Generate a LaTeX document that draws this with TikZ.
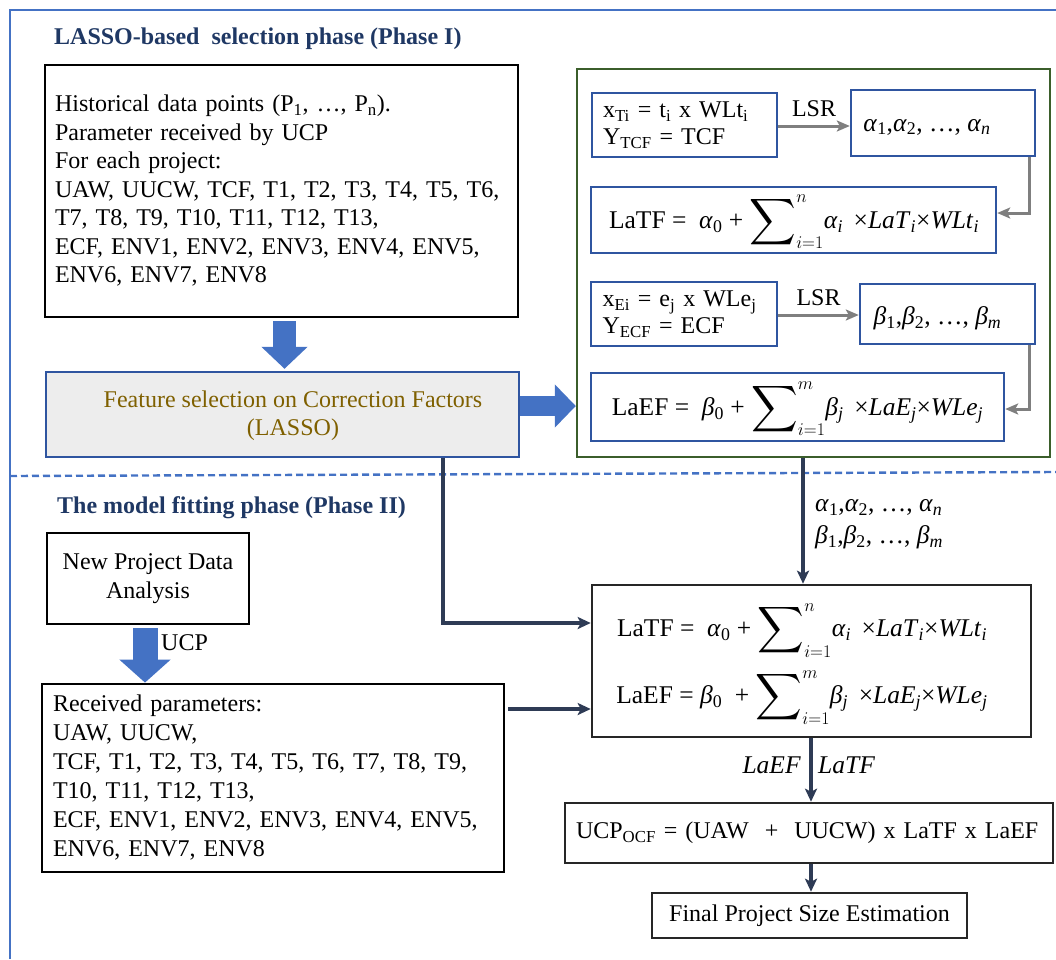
\documentclass[tikz,border=0pt]{standalone}
\usepackage{fix-cm}
\usepackage{amsmath}
\usepackage{graphicx}
\usepackage{fontspec}
\setmainfont{Liberation Serif}
\usetikzlibrary{arrows.meta,calc}
\definecolor{framebl}{HTML}{4472C4}
\definecolor{boxbl}{HTML}{2F55A0}
\definecolor{grn}{HTML}{3B5E2B}
\definecolor{navy}{HTML}{2E3B55}
\definecolor{titlec}{HTML}{1F3864}
\definecolor{olivec}{HTML}{7F6000}
\definecolor{featfill}{HTML}{EDEDED}
\definecolor{arrgray}{HTML}{7F7F7F}
\newcommand{\bodyfont}{\fontsize{24}{28.5}\selectfont}
\newcommand{\formfont}{\fontsize{25.5}{30}\selectfont}
\newcommand{\sm}[1]{\textsubscript{#1}}
\newcommand{\mi}[1]{\textit{#1}}
\newcommand{\bsum}[1]{$\displaystyle\mathop{\vcenter{\hbox{\scalebox{1.3}{$\displaystyle\sum$}}}}\nolimits_{i=1}^{#1}$}
\newcommand{\fLaTF}{LaTF = \ \mi{α}\sm{0} + \bsum{n}\mi{α}\sm{\mi{i}} \,×\mi{LaT}\sm{\mi{i}}×\mi{WLt}\sm{\mi{i}}}
\newcommand{\fLaEF}{LaEF = \ \mi{β}\sm{0} + \bsum{m}\mi{β}\sm{\mi{j}} \,×\mi{LaE}\sm{\mi{j}}×\mi{WLe}\sm{\mi{j}}}
\newcommand{\alist}{\mi{α}\sm{1},\mi{α}\sm{2}, …, \mi{α}\sm{\mi{n}}}
\newcommand{\blist}{\mi{β}\sm{1},\mi{β}\sm{2}, …, \mi{β}\sm{\mi{m}}}
\tikzset{
  every node/.style={font=\bodyfont, inner sep=0pt},
  blackbox/.style={draw=black, line width=2.8pt},
  darkbox/.style={draw=black!85, line width=2.6pt},
  bluebox/.style={draw=boxbl, line width=2.4pt},
  featbox/.style={draw=boxbl, line width=2.4pt, fill=featfill},
  greenframe/.style={draw=grn, line width=2.4pt},
  title/.style={font=\fontsize{24}{28}\selectfont\bfseries, text=titlec, anchor=base west},
  blockarrow/.style={draw=framebl, line width=#1},
  grayarrow/.style={draw=arrgray, line width=3pt, -{Stealth[length=13pt,width=11pt,inset=3pt]}},
  navyarrow/.style={draw=navy, line width=3.2pt, -{Stealth[length=13pt,width=12pt,inset=3pt]}},
}
\begin{document}
\begin{tikzpicture}[x=1pt,y=-1pt]
\useasboundingbox (0,0) rectangle (1056,959);
% outer frame and dashed separator
\draw[framebl, line width=2.4pt] (10,959) -- (10,10) -- (1056,10);
\draw[framebl, line width=2.4pt, dash pattern=on 7pt off 4pt] (10,476) -- (1056,472);
% titles
\node[title] (t1) at (54,44) {LASSO-based \ selection phase (Phase I)};
\node[title] (t2) at (57,513) {The model fitting phase (Phase II)};
% Phase I boxes
\node[blackbox, minimum width=473, minimum height=252, text width=453, align=left] (hist) at (281.5,191)
 {Historical data points (P\sm{1}, …, P\sm{n}).\\
  Parameter received by UCP\\
  For each project:\\
  UAW, UUCW, TCF, T1, T2, T3, T4, T5, T6,\\
  T7, T8, T9, T10, T11, T12, T13,\\
  ECF, ENV1, ENV2, ENV3, ENV4, ENV5,\\
  ENV6, ENV7, ENV8};
\node[featbox, minimum width=473, minimum height=85] (feat) at (282.5,414.5) {};
\node[text=olivec, align=center, font=\fontsize{24}{28}\selectfont] (feattext) at (293,416)
 {Feature selection on Correction Factors\\(LASSO)};
\node[greenframe, minimum width=473, minimum height=388] (green) at (813.5,263) {};
\node[bluebox, minimum width=185, minimum height=64, text width=163, align=left, font=\fontsize{24}{27}\selectfont] (xti) at (684.5,125)
 {x\sm{Ti} = t\sm{i} x WLt\sm{i}\\Y\sm{TCF} = TCF};
\node[bluebox, minimum width=184, minimum height=66] (alpha) at (943,123) {};
\node[font=\formfont] (alphatext) at (927,127) {\alist};
\node[bluebox, minimum width=405, minimum height=66] (latfs) at (793.5,220) {};
\node[font=\formfont] (latfstext) at (794,222) {\fLaTF};
\node[bluebox, minimum width=186, minimum height=64, text width=163, align=left, font=\fontsize{24}{27}\selectfont] (xei) at (684,314)
 {x\sm{Ei} = e\sm{j} x WLe\sm{j}\\Y\sm{ECF} = ECF};
\node[bluebox, minimum width=175, minimum height=60] (beta) at (947.5,314) {};
\node[font=\formfont] (betatext) at (937.5,318) {\blist};
\node[bluebox, minimum width=413, minimum height=68] (laefs) at (797.5,407) {};
\node[font=\formfont] (laefstext) at (797.5,409) {\fLaEF};
% Phase II boxes
\node[blackbox, minimum width=202, minimum height=91, align=center, font=\fontsize{24}{29}\selectfont] (newp) at (148,578.5)
 {New Project Data\\Analysis};
\node[blackbox, minimum width=462, minimum height=188, text width=440, align=left, font=\fontsize{24}{29}\selectfont] (recv) at (273,778)
 {Received parameters:\\
  UAW, UUCW,\\
  TCF, T1, T2, T3, T4, T5, T6, T7, T8, T9,\\
  T10, T11, T12, T13,\\
  ECF, ENV1, ENV2, ENV3, ENV4, ENV5,\\
  ENV6, ENV7, ENV8};
\node[darkbox, minimum width=439, minimum height=152] (big) at (811.5,661) {};
\node[align=center, font=\fontsize{25.5}{67}\selectfont] (bigtext) at (802,664)
 {\fLaTF\\ LaEF = \mi{β}\sm{0} \ + \bsum{m}\mi{β}\sm{\mi{j}} \,×\mi{LaE}\sm{\mi{j}}×\mi{WLe}\sm{\mi{j}}};
\node[darkbox, minimum width=488, minimum height=60, text width=466, align=left] (ucp) at (809,833)
 {UCP\sm{OCF} = (UAW \ + \ UUCW) x LaTF x LaEF};
\node[darkbox, minimum width=315, minimum height=45] (final) at (809.5,915.5)
 {Final Project Size Estimation};
% block arrows
\draw[blockarrow=23pt, -{Triangle[length=22pt,width=45pt]}, shorten <=3pt, shorten >=2pt]
  (hist.south -| 284.5,0) -- (feat.north -| 284.5,0);
\coordinate (ra) at ($(feat.east)+(0,-8.5)$);
\draw[blockarrow=20pt, -{Triangle[length=21pt,width=42pt]}] (ra) -- (ra -| green.west);
\draw[blockarrow=25pt, -{Triangle[length=23pt,width=50pt]}, shorten <=3pt]
  (newp.south -| 145,0) -- (recv.north -| 145,0);
\node[anchor=west] (ucplbl) at (161,643) {UCP};
% gray LSR arrows
\draw[grayarrow] (xti.east |- 0,126) -- (alpha.west |- 0,126) node[midway, above=8pt] (lsr1) {LSR};
\draw[grayarrow] (xei.east |- 0,315) -- (beta.west |- 0,315) node[midway, above=8pt] (lsr2) {LSR};
\coordinate (ex) at (1029,0);
\draw[grayarrow] (alpha.south -| ex) |- ($(latfs.east)+(0,-7)$);
\draw[grayarrow] (beta.south -| ex) |- ($(laefs.east)+(0,2)$);
% navy connectors
\coordinate (gx) at (803,0);
\draw[navyarrow] (green.south -| gx) -- (big.north -| gx);
\node[anchor=west, align=left, font=\fontsize{25.5}{32}\selectfont] (coefs) at (815,524)
 {\alist\\ \blist};
\coordinate (fx) at (443,0);
\draw[navyarrow] (feat.south -| fx) |- ($(big.west)+(0,-38)$);
\draw[navyarrow] ($(recv.east)+(3,-69)$) -- ($(big.west)+(0,48)$);
\coordinate (bx) at (811,0);
\draw[navyarrow] (big.south -| bx) -- (ucp.north -| bx);
\node[anchor=east, font=\formfont] (laeflbl) at (801,765) {\mi{LaEF}};
\node[anchor=west, font=\formfont] (latflbl) at (818,765) {\mi{LaTF}};
\draw[navyarrow] (ucp.south -| bx) -- (final.north -| bx);
\end{tikzpicture}
\end{document}
